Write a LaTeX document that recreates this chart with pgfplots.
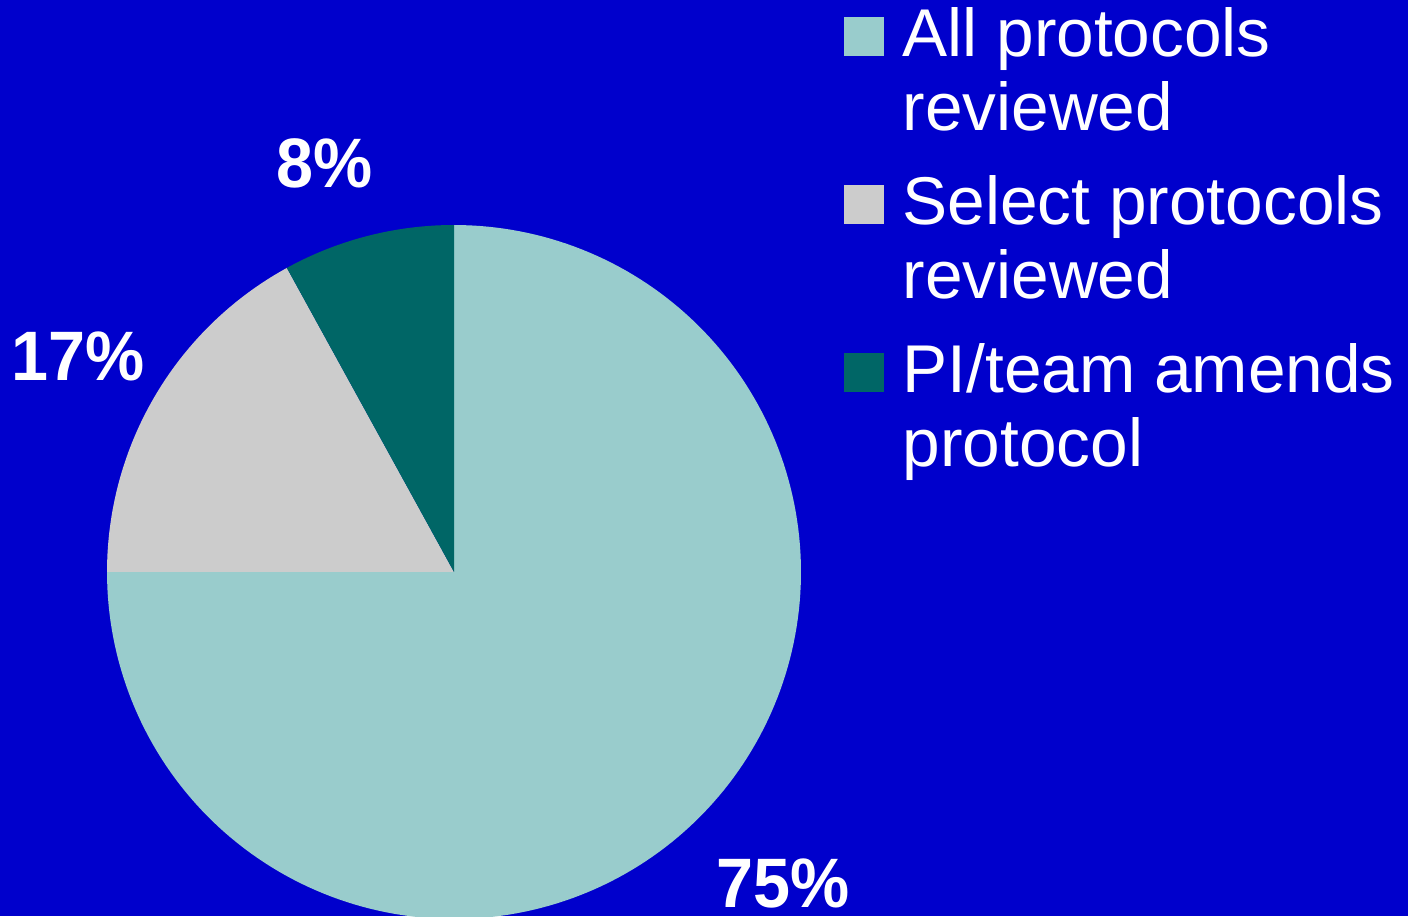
\documentclass[border=0pt]{standalone}
\usepackage{fontspec}
\setmainfont{Liberation Sans}
\newfontfamily\pctfont[FakeStretch=0.95]{Liberation Sans}
\usepackage{pgfplots}
\usepackage{pgfplotstable}
\pgfplotsset{compat=1.18}
\definecolor{bgblue}{HTML}{0000CC}
\definecolor{lteal}{HTML}{99CCCC}
\definecolor{lgray}{HTML}{CCCCCC}
\definecolor{dteal}{HTML}{006666}

\pgfplotstableread{
share label
75 All
17 Select
8 PI
}\piedata
\pgfplotstablegetelem{0}{share}\of\piedata \edef\sA{\pgfplotsretval}
\pgfplotstablegetelem{1}{share}\of\piedata \edef\sB{\pgfplotsretval}
\pgfplotstablegetelem{2}{share}\of\piedata \edef\sC{\pgfplotsretval}
\pgfmathsetmacro\aA{90-3.6*\sA}
\pgfmathsetmacro\aB{\aA-3.6*\sB}
\pgfmathsetmacro\aC{\aB-3.6*\sC}

\begin{document}
\begin{tikzpicture}
\begin{axis}[
  width=704pt, height=458pt, scale only axis,
  xmin=0, xmax=1408, ymin=0, ymax=916,
  axis line style={draw=none}, xtick=\empty, ytick=\empty,
  axis background/.style={fill=bgblue},
  clip=true,
  legend image code/.code={\fill[#1] (0pt,37pt) rectangle (20pt,56.7pt);},
  legend style={at={(axis cs:844,912.5)}, anchor=north west, draw=none, fill=none,
    inner sep=0pt, outer sep=0pt, row sep=17pt, column sep=7.3pt,
    font=\fontsize{33.8}{37}\selectfont, text=white,
    cells={align=left, anchor=base west, inner sep=0pt}},
]
\addplot[fill=lteal, draw=none, domain=\aA:90, samples=200, variable=\t]
  ({454+347*cos(t)}, {344+347*sin(t)}) -- (axis cs:454,344) -- cycle;
\addlegendentry{All protocols\\reviewed}
\addplot[fill=lgray, draw=none, domain=\aB:\aA, samples=80, variable=\t]
  ({454+347*cos(t)}, {344+347*sin(t)}) -- (axis cs:454,344) -- cycle;
\addlegendentry{Select protocols\\reviewed}
\addplot[fill=dteal, draw=none, domain=\aC:\aB, samples=40, variable=\t]
  ({454+347*cos(t)}, {344+347*sin(t)}) -- (axis cs:454,344) -- cycle;
\addlegendentry{PI/team amends\\protocol}

\node[anchor=base, text=white, font=\pctfont\bfseries\fontsize{35}{40}\selectfont, inner sep=0pt] at (axis cs:324.5,728) {8\%};
\node[anchor=base, text=white, font=\pctfont\bfseries\fontsize{35}{40}\selectfont, inner sep=0pt] at (axis cs:78,535) {17\%};
\node[anchor=base, text=white, font=\pctfont\bfseries\fontsize{35}{40}\selectfont, inner sep=0pt] at (axis cs:783,9) {75\%};
\end{axis}
\end{tikzpicture}
\end{document}
